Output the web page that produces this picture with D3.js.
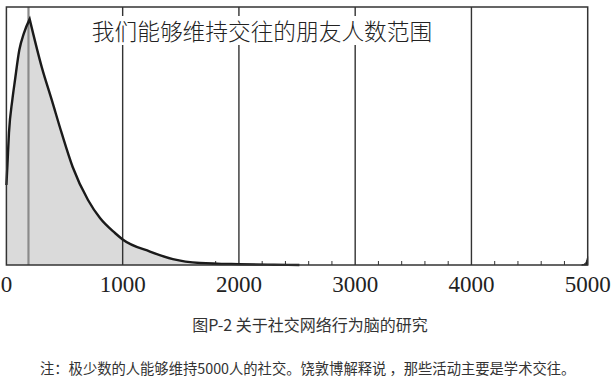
<!DOCTYPE html>
<html>
<head>
<meta charset="utf-8">
<script src="https://cdn.jsdelivr.net/npm/d3@7"></script>
<style>
  html, body { margin: 0; padding: 0; background: #fff; }
  svg { display: block; }
  .tick-label { font-family: 'Liberation Serif', 'DejaVu Serif', serif; font-size: 23px; fill: #222; }
  .cjk { font-family: 'Noto Sans CJK SC', sans-serif; }
</style>
</head>
<body>
<div id="chart"></div>
<script>
// friends-count distribution (y in relative units, 0..100)
// rising side up to the peak, then the long falling side
const riseX = [0, 8, 22, 51, 74, 111, 151, 200];
const riseY = [31, 38, 51.2, 64, 71.7, 83.3, 89.9, 95.3];
const fallX = [200, 304, 390, 475, 570, 702, 805, 934, 1000, 1235, 1432, 1665, 2000, 2300, 2520];
const fallY = [95.3, 76.7, 64, 51.2, 38, 25.2, 18.2, 12.4, 9.9, 5.2, 2.3, 0.8, 0.3, 0.1, 0];
// the little tail visible at the far right edge
const tailX = [4948, 4975, 4990, 5000];
const tailY = [0, 0.5, 1.5, 3.2];
const gridTicks = [1000, 2000, 3000, 4000];
const labelTicks = [0, 1000, 2000, 3000, 4000, 5000];
const minorTicks = [1800, 2200, 2400, 2600, 2800, 3200, 3400, 3600, 3800, 4200, 4400, 4600, 4800];
const markerX = 190;
const title = '我们能够维持交往的朋友人数范围';
const caption = '图P-2 关于社交网络行为脑的研究';
const note = '注：极少数的人能够维持5000人的社交。饶敦博解释说 ，那些活动主要是学术交往。';

const W = 616, H = 389;
const plot = { left: 6.4, right: 587.7, top: 7, bottom: 265 };

const x = d3.scaleLinear().domain([0, 5000]).range([plot.left, plot.right]);
const y = d3.scaleLinear().domain([0, 100]).range([plot.bottom, plot.top]);

const svg = d3.select('#chart').append('svg')
  .attr('width', W).attr('height', H)
  .attr('viewBox', `0 0 ${W} ${H}`);

const rise = riseX.map((v, i) => [v, riseY[i]]);
const fall = fallX.map((v, i) => [v, fallY[i]]);
const tail = tailX.map((v, i) => [v, tailY[i]]);

// each side drawn monotone on its own so the peak stays a sharp cusp
const area = d3.area()
  .x(d => x(d[0])).y0(y(0)).y1(d => y(d[1]))
  .curve(d3.curveMonotoneX);
const line = d3.line()
  .x(d => x(d[0])).y(d => y(d[1]))
  .curve(d3.curveMonotoneX);

svg.append('path').attr('d', area(rise)).attr('fill', '#dadada');
svg.append('path').attr('d', area(fall)).attr('fill', '#dadada');

// marker line near the peak
svg.append('line')
  .attr('x1', x(markerX)).attr('x2', x(markerX))
  .attr('y1', plot.top).attr('y2', plot.bottom)
  .attr('stroke', '#8a8a8a').attr('stroke-width', 2.2);

// vertical grid lines
svg.append('g').selectAll('line').data(gridTicks).join('line')
  .attr('x1', d => x(d)).attr('x2', d => x(d))
  .attr('y1', plot.top).attr('y2', plot.bottom)
  .attr('stroke', '#333').attr('stroke-width', 1.4);

// minor ticks on the baseline
svg.append('g').selectAll('line').data(minorTicks).join('line')
  .attr('x1', d => x(d)).attr('x2', d => x(d))
  .attr('y1', plot.bottom - 4).attr('y2', plot.bottom)
  .attr('stroke', '#333').attr('stroke-width', 1);

// title with white knock-out behind it
const tg = svg.append('g');
tg.append('rect').attr('x', 88).attr('y', 16).attr('width', 350).attr('height', 29).attr('fill', '#fff');
tg.append('text').attr('class', 'cjk')
  .attr('x', 262).attr('y', 39.5).attr('text-anchor', 'middle')
  .attr('font-size', 22.7).attr('font-weight', 300).attr('fill', '#222')
  .text(title);

const path = line(rise) + line(fall).replace(/^M/, 'L');
svg.append('path').attr('d', path)
  .attr('fill', 'none').attr('stroke', '#1a1a1a').attr('stroke-width', 2.4)
  .attr('stroke-linejoin', 'miter');

svg.append('path').attr('d', area(tail)).attr('fill', '#1a1a1a')
  .attr('stroke', '#1a1a1a').attr('stroke-width', 1);

// frame
svg.append('rect')
  .attr('x', plot.left).attr('y', plot.top)
  .attr('width', plot.right - plot.left).attr('height', plot.bottom - plot.top)
  .attr('fill', 'none').attr('stroke', '#333').attr('stroke-width', 1.5);

svg.append('g').selectAll('text').data(labelTicks).join('text')
  .attr('class', 'tick-label')
  .attr('x', d => x(d)).attr('y', 292).attr('text-anchor', 'middle')
  .text(d => d);

svg.append('text').attr('class', 'cjk')
  .attr('x', 310).attr('y', 331).attr('text-anchor', 'middle')
  .attr('font-size', 16).attr('fill', '#333')
  .text(caption);

svg.append('text').attr('class', 'cjk')
  .attr('x', 40).attr('y', 374)
  .attr('font-size', 14.3).attr('fill', '#333')
  .text(note);
</script>
</body>
</html>
